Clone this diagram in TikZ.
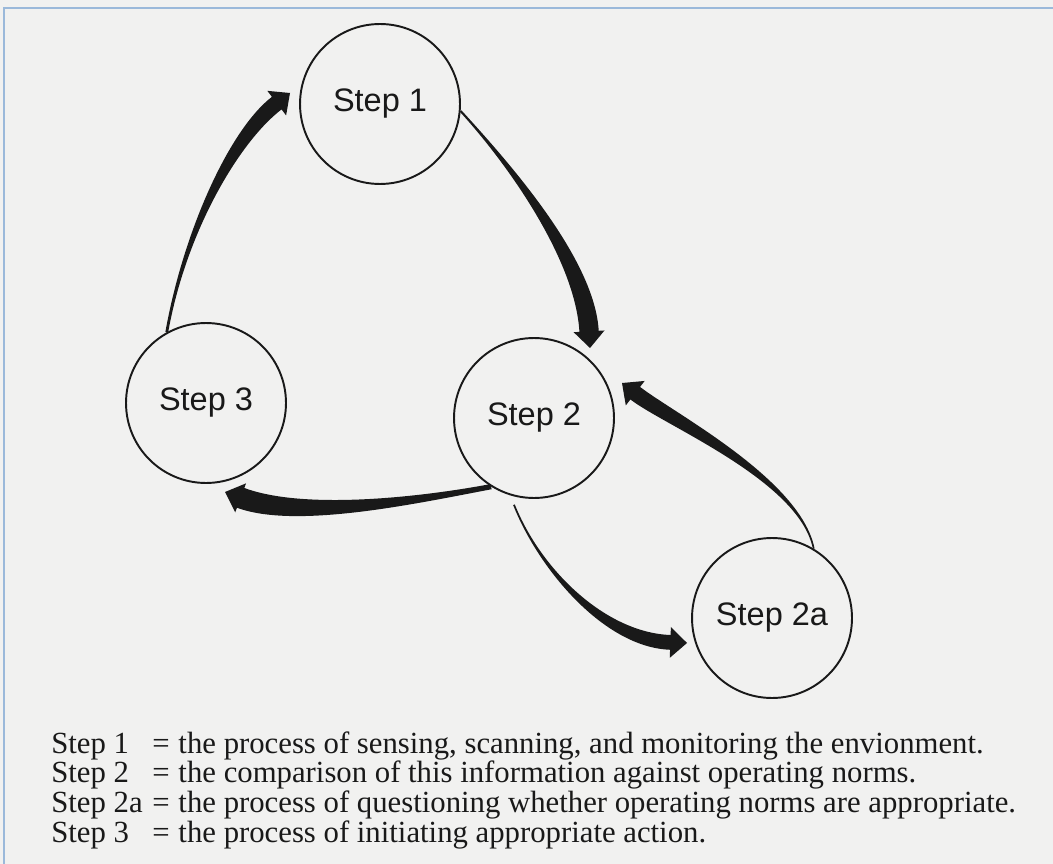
\documentclass[tikz,border=0pt]{standalone}
\usepackage{fontspec}
\setmainfont{Liberation Serif}
\setsansfont{Liberation Sans}
\usetikzlibrary{calc}
\definecolor{paper}{RGB}{241,241,240}
\definecolor{frameblue}{RGB}{155,185,218}
\definecolor{ink}{RGB}{25,25,25}
\tikzset{%
  % Specifications for style of nodes:
    stepnode/.style = {circle, draw=ink, line width=1.1pt, fill=paper,
                   minimum size=3.2cm, inner sep=0pt, text=ink,
                   font=\sffamily\fontsize{18.5}{20}\selectfont},
    legend/.style = {anchor=base west, inner sep=0pt, text=ink,
                   font=\fontsize{17.5}{15.6}\selectfont}
}
% tapered arrow: start, control 1, control 2, tip, half width at start, half width at neck
\newcommand{\flowarrow}[6]{%
  \coordinate (nk) at ($(#4)!\headlen!(#3)$);
  \fill[ink] ($(#1)!#5!90:(#2)$)
    .. controls ($(#2)!#5!90:(#3)$) and ($(#3)!#6!90:(nk)$) .. ($(nk)!#6!90:(#4)$)
    -- ($(nk)!\headwid!90:(#4)$) -- (#4) -- ($(nk)!\headwid!-90:(#4)$)
    -- ($(nk)!#6!-90:(#4)$)
    .. controls ($(#3)!#6!-90:(nk)$) and ($(#2)!#5!-90:(#3)$) .. ($(#1)!#5!-90:(#2)$)
    -- cycle;
}

\begin{document}
\begin{tikzpicture}[x=0.02cm, y=-0.02cm]
\def\headlen{9.5pt}
\def\headwid{8.8pt}

\fill[paper] (0,0) rectangle (1053,864);
\useasboundingbox (0,0) rectangle (1053,864);
\draw[frameblue, line width=1.4pt] (4,864) -- (4,8) -- (1053,8);

\node[stepnode] (s1) at (380,104) {Step 1};
\node[stepnode] (s3) at (206,403) {Step 3};
\node[stepnode] (s2) at (534,418) {Step 2};
\node[stepnode] (s2a) at (772,618) {Step 2a};

\coordinate (tA) at (290,93); %tip into step 1
\coordinate (tB) at (590,348); %tip into step 2
\coordinate (tC) at (225,492); %tip into step 3
\coordinate (tD) at (687,643); %tip into step 2a
\coordinate (tE) at (622,383); %tip back into step 2
\coordinate (sD) at ($(s2.center)!1.1!(s2.257)$);

\flowarrow{s3.119}{185,230}{235,135}{tA}{0.8pt}{4.5pt}
\flowarrow{s1.355}{510,165}{585,260}{tB}{0.6pt}{5.5pt}
\flowarrow{s2.238}{420,500}{300,520}{tC}{1.5pt}{6pt}
\flowarrow{sD}{540,570}{605,640}{tD}{0.5pt}{4.2pt}
\flowarrow{s2a.59}{800,480}{670,420}{tE}{0.5pt}{4.5pt}

\node[legend] (key) at (51,753) {%
  \begin{tabular}[t]{@{}p{57.5pt}@{}l@{}}
  Step 1  & =\hspace{5pt}the process of sensing, scanning, and monitoring the envionment.\\
  Step 2  & =\hspace{5pt}the comparison of this information against operating norms.\\
  Step 2a & =\hspace{5pt}the process of questioning whether operating norms are appropriate.\\
  Step 3  & =\hspace{5pt}the process of initiating appropriate action.
  \end{tabular}};
\end{tikzpicture}
\end{document}
